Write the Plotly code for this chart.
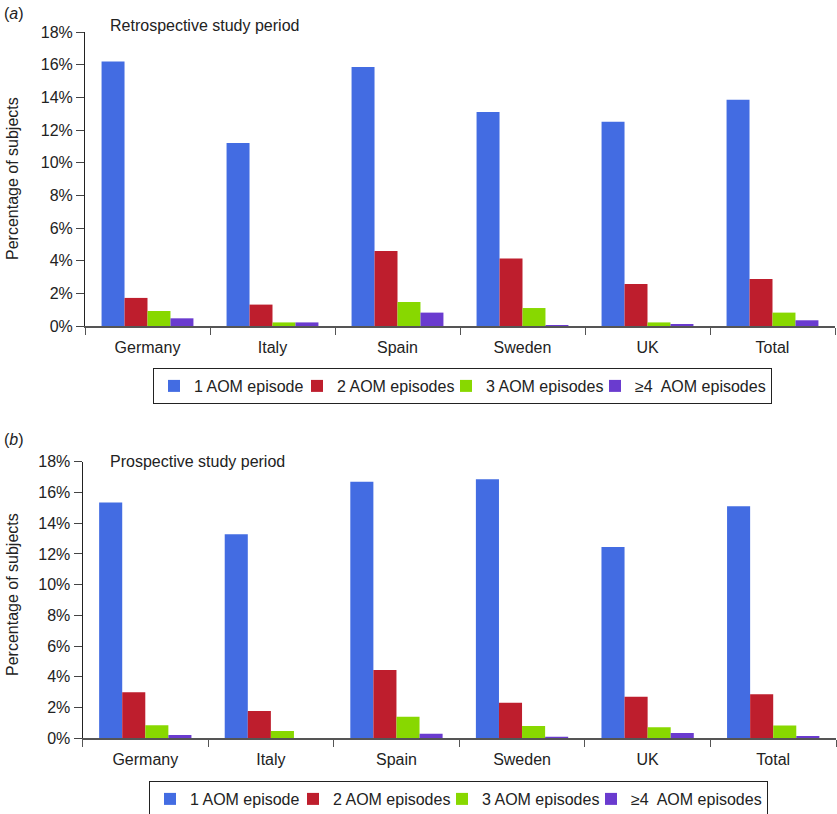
import plotly.graph_objects as go

countries = ["Germany", "Italy", "Spain", "Sweden", "UK", "Total"]
series_names = ["1 AOM episode", "2 AOM episodes", "3 AOM episodes", "\u22654  AOM episodes"]

retro_1 = [16.2, 11.2, 15.85, 13.1, 12.5, 13.85]
retro_2 = [1.72, 1.31, 4.59, 4.14, 2.57, 2.88]
retro_3 = [0.92, 0.22, 1.47, 1.10, 0.22, 0.82]
retro_4 = [0.47, 0.22, 0.82, 0.06, 0.10, 0.35]

pro_1 = [15.35, 13.28, 16.7, 16.85, 12.45, 15.1]
pro_2 = [3.0, 1.78, 4.45, 2.32, 2.71, 2.86]
pro_3 = [0.85, 0.48, 1.40, 0.80, 0.72, 0.83]
pro_4 = [0.22, 0.0, 0.30, 0.07, 0.35, 0.15]

y_ticks = [0, 2, 4, 6, 8, 10, 12, 14, 16, 18]

colors = ["#436CE2", "#BE1E2D", "#88D800", "#6A3BCF"]
legend_widths = [98, 104, 104, None]
FONT = "Liberation Sans, Arial, Helvetica, sans-serif"
W, H = 837, 814

fig = go.Figure()
retro = [retro_1, retro_2, retro_3, retro_4]
pro = [pro_1, pro_2, pro_3, pro_4]
for i, (name, vals) in enumerate(zip(series_names, retro)):
    fig.add_trace(go.Bar(x=countries, y=vals, name=name, marker_color=colors[i],
                         marker_line_width=0, xaxis="x", yaxis="y",
                         legend="legend", legendwidth=legend_widths[i]))
for i, (name, vals) in enumerate(zip(series_names, pro)):
    fig.add_trace(go.Bar(x=countries, y=vals, name=name, marker_color=colors[i],
                         marker_line_width=0, xaxis="x2", yaxis="y2",
                         legend="legend2", legendwidth=legend_widths[i]))

def py(px):
    return 1 - px / H

def px_(x):
    return x / W

xcommon = dict(showline=True, linecolor="#555", linewidth=1.5, ticks="outside",
               tickson="boundaries", ticklen=7, tickcolor="#555", tickwidth=1.3,
               showgrid=False, zeroline=False, ticklabelstandoff=6, automargin=False,
               tickfont=dict(family=FONT, size=16, color="#222"))
ycommon = dict(showline=True, linecolor="#222", linewidth=1, ticks="outside",
               ticklen=8, tickcolor="#444", tickwidth=1, showgrid=False,
               zeroline=False, range=[0, 18], tickvals=y_ticks, automargin=False,
               ticktext=[f"{v}%" for v in y_ticks], ticklabelstandoff=0,
               tickfont=dict(family=FONT, size=16, color="#222"))

legend_common = dict(orientation="h", xanchor="left", yanchor="top",
                     bordercolor="#222", borderwidth=1, bgcolor="white",
                     font=dict(family=FONT, size=16, color="#222"),
                     itemclick=False, itemdoubleclick=False)

fig.update_layout(
    width=W, height=H,
    margin=dict(l=0, r=0, t=0, b=0, autoexpand=False),
    paper_bgcolor="white", plot_bgcolor="white",
    barmode="group", bargap=0.265, bargroupgap=0,
    font=dict(family=FONT, size=16, color="#222"),
    xaxis=dict(domain=[px_(85), px_(835)], anchor="y", **xcommon),
    yaxis=dict(domain=[py(326), py(32)], anchor="x", **ycommon),
    xaxis2=dict(domain=[px_(82.5), px_(836)], anchor="y2", **xcommon),
    yaxis2=dict(domain=[py(738.3), py(461.7)], anchor="x2", **ycommon),
    legend=dict(x=px_(153), y=py(368), **legend_common),
    legend2=dict(x=px_(149), y=py(781), **legend_common),
    annotations=[
        dict(text="(<i>a</i>)", x=px_(2), y=py(13), xref="paper", yref="paper",
             xanchor="left", yanchor="middle", showarrow=False,
             font=dict(family=FONT, size=16, color="#222")),
        dict(text="(<i>b</i>)", x=px_(2), y=py(439), xref="paper", yref="paper",
             xanchor="left", yanchor="middle", showarrow=False,
             font=dict(family=FONT, size=16, color="#222")),
        dict(text="Retrospective study period", x=px_(108), y=py(26), xref="paper",
             yref="paper", xanchor="left", yanchor="middle", showarrow=False,
             font=dict(family=FONT, size=16, color="#222")),
        dict(text="Prospective study period", x=px_(108), y=py(461), xref="paper",
             yref="paper", xanchor="left", yanchor="middle", showarrow=False,
             font=dict(family=FONT, size=16, color="#222")),
        dict(text="Percentage of subjects", x=px_(12), y=py(179), xref="paper",
             yref="paper", xanchor="center", yanchor="middle", showarrow=False,
             textangle=-90, font=dict(family=FONT, size=16, color="#222")),
        dict(text="Percentage of subjects", x=px_(12), y=py(595), xref="paper",
             yref="paper", xanchor="center", yanchor="middle", showarrow=False,
             textangle=-90, font=dict(family=FONT, size=16, color="#222")),
    ],
)

fig.write_html("out.html", config={"displayModeBar": False},
               post_script="document.body.style.margin='0px';")
